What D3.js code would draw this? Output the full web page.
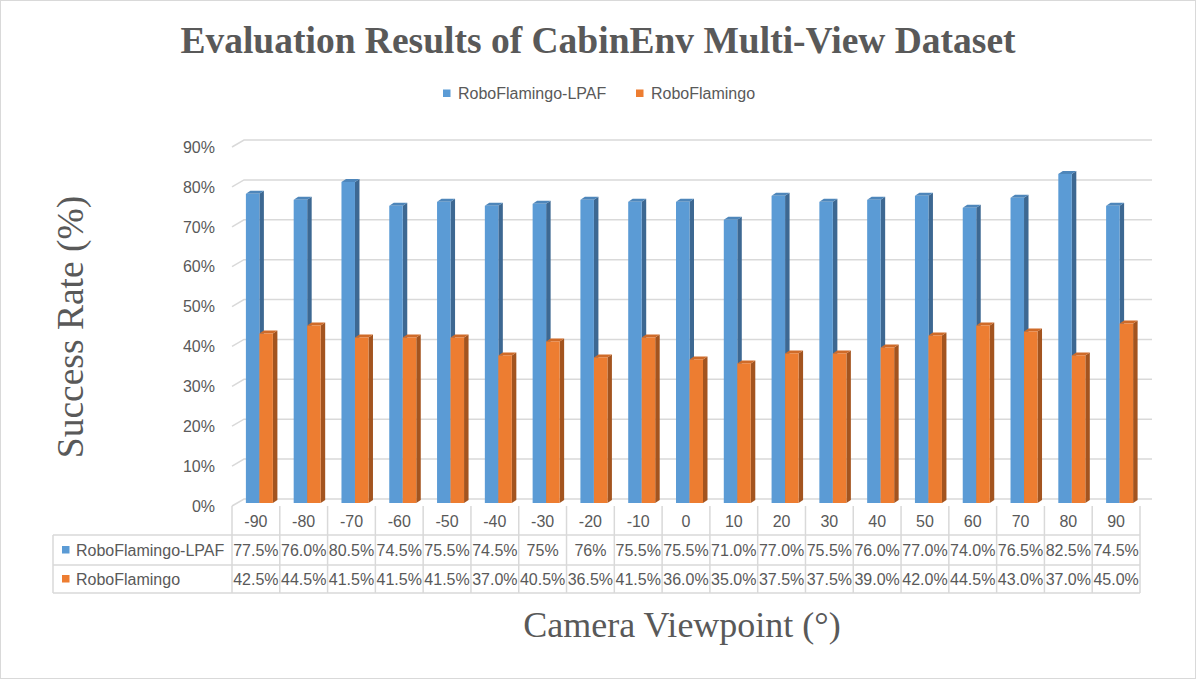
<!doctype html>
<html>

<head>
    <meta charset="utf-8">
    <title>CabinEnv Multi-View</title>
    <script type="text/javascript" src="https://d3js.org/d3.v7.min.js"></script>
    <style type="text/css">
        html,
        body {
            margin: 0;
            padding: 0;
            background: #fff;
        }

        #chart svg {
            display: block;
        }

        .lbl {
            font-family: "Liberation Sans", Arial, sans-serif;
            font-size: 16px;
            fill: #595959;
        }

        .serif {
            font-family: "Liberation Serif", "Times New Roman", serif;
            fill: #595959;
        }
    </style>
</head>

<body>
    <div id="chart"></div>

    <script type="text/javascript">
        // data
        var categories = ["-90", "-80", "-70", "-60", "-50", "-40", "-30", "-20", "-10", "0",
            "10", "20", "30", "40", "50", "60", "70", "80", "90"]
        var seriesNames = ["RoboFlamingo-LPAF", "RoboFlamingo"]
        var lpaf = [77.5, 76.0, 80.5, 74.5, 75.5, 74.5, 75, 76, 75.5, 75.5, 71.0, 77.0, 75.5, 76.0, 77.0, 74.0, 76.5, 82.5, 74.5]
        var flamingo = [42.5, 44.5, 41.5, 41.5, 41.5, 37.0, 40.5, 36.5, 41.5, 36.0, 35.0, 37.5, 37.5, 39.0, 42.0, 44.5, 43.0, 37.0, 45.0]
        var lpafLabels = ["77.5%", "76.0%", "80.5%", "74.5%", "75.5%", "74.5%", "75%", "76%", "75.5%", "75.5%",
            "71.0%", "77.0%", "75.5%", "76.0%", "77.0%", "74.0%", "76.5%", "82.5%", "74.5%"]
        var flamingoLabels = ["42.5%", "44.5%", "41.5%", "41.5%", "41.5%", "37.0%", "40.5%", "36.5%", "41.5%", "36.0%",
            "35.0%", "37.5%", "37.5%", "39.0%", "42.0%", "44.5%", "43.0%", "37.0%", "45.0%"]
        var yTicks = [0, 10, 20, 30, 40, 50, 60, 70, 80, 90]

        var W = 1196, H = 679
        var grid = "#d9d9d9"
        var colors = [
            { front: "#5b9bd5", top: "#4e86ba", side: "#3d6892" },
            { front: "#ed7d31", top: "#cf6b29", side: "#a3541f" }
        ]

        // 3d offsets: wall depth and bar depth
        var DX = 12, DY = -7
        var BX = 3.5, BY = -3
        var BDX = 4.5, BDY = -3

        var svg = d3.select("#chart").append("svg")
            .attr("width", W)
            .attr("height", H)

        svg.append("rect")
            .attr("x", 0.5).attr("y", 0.5)
            .attr("width", W - 1).attr("height", H - 1)
            .attr("fill", "#fff")
            .attr("stroke", grid)

        var x = d3.scaleBand().domain(categories).range([232, 1140])
        var y = d3.scaleLinear().domain([0, 90]).range([506, 147])
        var pairW = 27
        var x1 = d3.scaleBand().domain(seriesNames).range([0, pairW])

        // gridlines: short diagonal on the side wall, then along the back wall
        var gl = svg.append("g")
        yTicks.forEach(function (t) {
            var yy = y(t)
            gl.append("path")
                .attr("d", "M232," + yy + "L" + (232 + DX) + "," + (yy + DY) + "L" + (1140 + DX) + "," + (yy + DY))
                .attr("fill", "none")
                .attr("stroke", grid)
                .attr("stroke-width", 1.5)
        })

        // y tick labels
        svg.append("g").selectAll("text")
            .data(yTicks)
            .join("text")
            .attr("class", "lbl")
            .attr("x", 215)
            .attr("y", function (d) { return y(d) })
            .attr("dy", "0.36em")
            .attr("text-anchor", "end")
            .text(function (d) { return d + "%" })

        // bars
        var seriesVals = [lpaf, flamingo]
        var barsG = svg.append("g")
        categories.forEach(function (cat, i) {
            seriesNames.forEach(function (s, k) {
                var v = seriesVals[k][i]
                var x0 = x(cat) + (x.bandwidth() - pairW) / 2 + BX + x1(s)
                var w = x1.bandwidth()
                var yTop = y(v) + BY
                var yBase = y(0) + BY
                var c = colors[k]
                barsG.append("path")
                    .attr("d", "M" + (x0 + w) + "," + yTop + "L" + (x0 + w + BDX) + "," + (yTop + BDY) +
                        "L" + (x0 + w + BDX) + "," + (yBase + BDY) + "L" + (x0 + w) + "," + yBase + "Z")
                    .attr("fill", c.side)
                barsG.append("path")
                    .attr("d", "M" + x0 + "," + yTop + "L" + (x0 + BDX) + "," + (yTop + BDY) +
                        "L" + (x0 + w + BDX) + "," + (yTop + BDY) + "L" + (x0 + w) + "," + yTop + "Z")
                    .attr("fill", c.top)
                barsG.append("rect")
                    .attr("x", x0)
                    .attr("y", yTop)
                    .attr("width", w)
                    .attr("height", yBase - yTop)
                    .attr("fill", c.front)
            })
        })

        // data table
        var rowTop = 535, rowMid = 565, rowBot = 593, tableLeft = 53
        var tbl = svg.append("g")
        var colEdges = categories.map(function (c) { return x(c) }).concat([x.range()[1]])
        tbl.selectAll("line.v")
            .data(colEdges)
            .join("line")
            .attr("x1", function (d) { return d }).attr("x2", function (d) { return d })
            .attr("y1", 506).attr("y2", rowBot)
            .attr("stroke", grid).attr("stroke-width", 1.5)
        tbl.append("line")
            .attr("x1", tableLeft).attr("x2", tableLeft)
            .attr("y1", rowTop).attr("y2", rowBot)
            .attr("stroke", grid).attr("stroke-width", 1.5)
        tbl.selectAll("line.h")
            .data([rowTop, rowMid, rowBot])
            .join("line")
            .attr("x1", tableLeft).attr("x2", x.range()[1])
            .attr("y1", function (d) { return d }).attr("y2", function (d) { return d })
            .attr("stroke", grid).attr("stroke-width", 1.5)

        tbl.append("g").selectAll("text")
            .data(categories)
            .join("text")
            .attr("class", "lbl")
            .attr("x", function (d) { return x(d) + x.bandwidth() / 2 })
            .attr("y", 521)
            .attr("dy", "0.36em")
            .attr("text-anchor", "middle")
            .text(function (d) { return d })

        var rows = [
            { name: seriesNames[0], labels: lpafLabels, yc: (rowTop + rowMid) / 2, color: colors[0].front },
            { name: seriesNames[1], labels: flamingoLabels, yc: (rowMid + rowBot) / 2, color: colors[1].front }
        ]
        rows.forEach(function (r) {
            tbl.append("rect")
                .attr("x", 62).attr("y", r.yc - 4)
                .attr("width", 7.5).attr("height", 7.5)
                .attr("fill", r.color)
            tbl.append("text")
                .attr("class", "lbl")
                .attr("x", 76).attr("y", r.yc)
                .attr("dy", "0.36em")
                .text(r.name)
            tbl.append("g").selectAll("text")
                .data(r.labels)
                .join("text")
                .attr("class", "lbl")
                .attr("x", function (d, i) { return x(categories[i]) + x.bandwidth() / 2 })
                .attr("y", r.yc)
                .attr("dy", "0.36em")
                .attr("text-anchor", "middle")
                .text(function (d) { return d })
        })

        // legend
        var legX = [443, 636]
        seriesNames.forEach(function (s, k) {
            svg.append("rect")
                .attr("x", legX[k]).attr("y", 89.5)
                .attr("width", 7.5).attr("height", 7.5)
                .attr("fill", colors[k].front)
            svg.append("text")
                .attr("class", "lbl")
                .attr("x", legX[k] + 15).attr("y", 93)
                .attr("dy", "0.36em")
                .text(s)
        })

        // titles
        svg.append("text")
            .attr("class", "serif")
            .attr("x", 598).attr("y", 53)
            .attr("text-anchor", "middle")
            .attr("font-size", 37.5)
            .attr("font-weight", "bold")
            .text("Evaluation Results of CabinEnv Multi-View Dataset")

        svg.append("text")
            .attr("class", "serif")
            .attr("transform", "translate(83,327) rotate(-90)")
            .attr("text-anchor", "middle")
            .attr("font-size", 37.5)
            .text("Success Rate (%)")

        svg.append("text")
            .attr("class", "serif")
            .attr("x", 682).attr("y", 637)
            .attr("text-anchor", "middle")
            .attr("font-size", 36)
            .text("Camera Viewpoint (°)")
    </script>
</body>

</html>
